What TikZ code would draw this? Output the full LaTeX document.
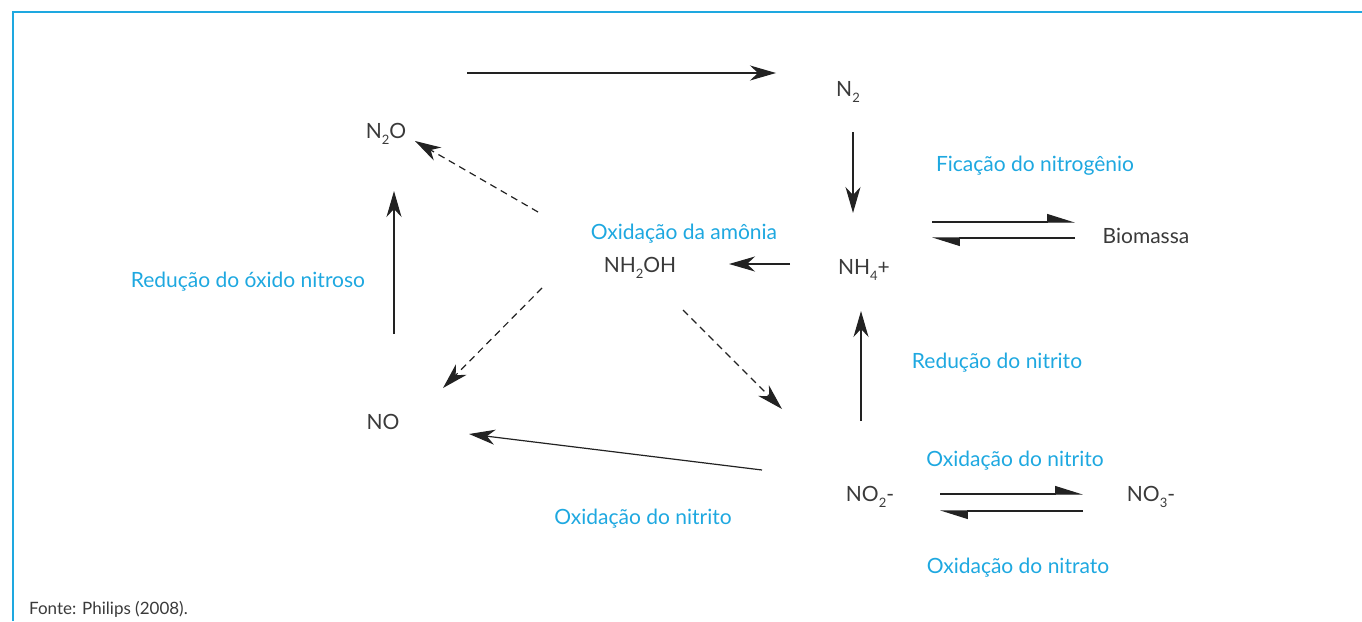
\documentclass[tikz,border=0pt]{standalone}
\usepackage{fontspec}
\setmainfont{Lato}
\usetikzlibrary{arrows.meta}
\definecolor{cy}{HTML}{1EA8E0}
\definecolor{ink}{HTML}{3A3A3A}
\definecolor{arrowc}{HTML}{222222}
\newcommand{\chsub}[1]{\raisebox{-0.5ex}{\fontsize{13}{13}\selectfont #1}}
\begin{document}
\begin{tikzpicture}[x=1pt,y=-1pt,
  lbl/.style={font=\fontsize{21}{24}\selectfont, text=ink, inner sep=0pt, yshift=-2pt},
  proc/.style={font=\fontsize{21}{24}\selectfont, text=cy, inner sep=0pt, yshift=-2pt},
  arr/.style={draw=arrowc, line width=1.2pt, -{Stealth[length=26pt,width=15pt,inset=8pt]}},
  dsh/.style={arr, dash pattern=on 7pt off 5pt},
  hp/.style={draw=arrowc, line width=1.2pt, -{Stealth[harpoon,length=26pt,width=16pt,inset=0pt]}},
  frame/.style={draw=cy, line width=2pt}]
\path[use as bounding box] (0,0) rectangle (1362,621);
% frame
\draw[frame] (13,621) -- (13,12) -- (1362,12);
% species
\node[lbl] (n2) at (848,90) {N\chsub{2}};
\node[lbl] (n2o) at (386,132) {N\chsub{2}O};
\node[lbl] (nh2oh) at (640,266) {NH\chsub{2}OH};
\node[lbl] (nh4) at (864,268) {NH\chsub{4}+};
\node[lbl] (bio) at (1146,234) {Biomassa};
\node[lbl] (no) at (383,420) {NO};
\node[lbl] (no2) at (870,495) {NO\chsub{2}-};
\node[lbl] (no3) at (1151,495) {NO\chsub{3}-};
% process labels
\node[proc] (fix) at (1035,164) {Fica\c{c}\~ao do nitrog\^enio};
\node[proc] (oxam) at (684,232) {Oxida\c{c}\~ao da am\^onia};
\node[proc] (redox) at (248,280) {Redu\c{c}\~ao do \'oxido nitroso};
\node[proc] (rednit) at (997,361) {Redu\c{c}\~ao do nitrito};
\node[proc] (oxnit1) at (1015,459) {Oxida\c{c}\~ao do nitrito};
\node[proc] (oxnit2) at (643,517) {Oxida\c{c}\~ao do nitrito};
\node[proc] (oxnat) at (1018,566) {Oxida\c{c}\~ao do nitrato};
\node[font=\fontsize{17}{20}\selectfont, text=ink, anchor=west, inner sep=0pt] (src) at (29,609) {Fonte: Philips (2008).};
% arrow end points
\coordinate (a1s) at (467,73);  \coordinate (a1e) at (776,73);
\coordinate (a2s) at (853,132); \coordinate (a2e) at (853,213);
\coordinate (a3s) at (790,264); \coordinate (a3e) at (729,264);
\coordinate (a4s) at (538,212); \coordinate (a4e) at (415,141);
\coordinate (a5s) at (394,334); \coordinate (a5e) at (394,191);
\coordinate (a6s) at (542,288); \coordinate (a6e) at (443,388);
\coordinate (a7s) at (683,310); \coordinate (a7e) at (782,409);
\coordinate (a8s) at (861,421); \coordinate (a8e) at (861,311);
\coordinate (a9s) at (762,470); \coordinate (a9e) at (469,434);
\coordinate (b1s) at (932,222); \coordinate (b1e) at (1075,222);
\coordinate (b2s) at (1075,238); \coordinate (b2e) at (932,238);
\coordinate (c1s) at (940,494); \coordinate (c1e) at (1083,494);
\coordinate (c2s) at (1083,511); \coordinate (c2e) at (940,511);
% arrows
\draw[arr] (a1s) -- (a1e);
\draw[arr] (a2s) -- (a2e);
\draw[arr] (a3s) -- (a3e);
\draw[dsh] (a4s) -- (a4e);
\draw[arr] (a5s) -- (a5e);
\draw[dsh] (a6s) -- (a6e);
\draw[dsh] (a7s) -- (a7e);
\draw[arr] (a8s) -- (a8e);
\draw[arr] (a9s) -- (a9e);
\draw[hp] (b1s) -- (b1e);
\draw[hp] (b2s) -- (b2e);
\draw[hp] (c1s) -- (c1e);
\draw[hp] (c2s) -- (c2e);
\end{tikzpicture}
\end{document}
